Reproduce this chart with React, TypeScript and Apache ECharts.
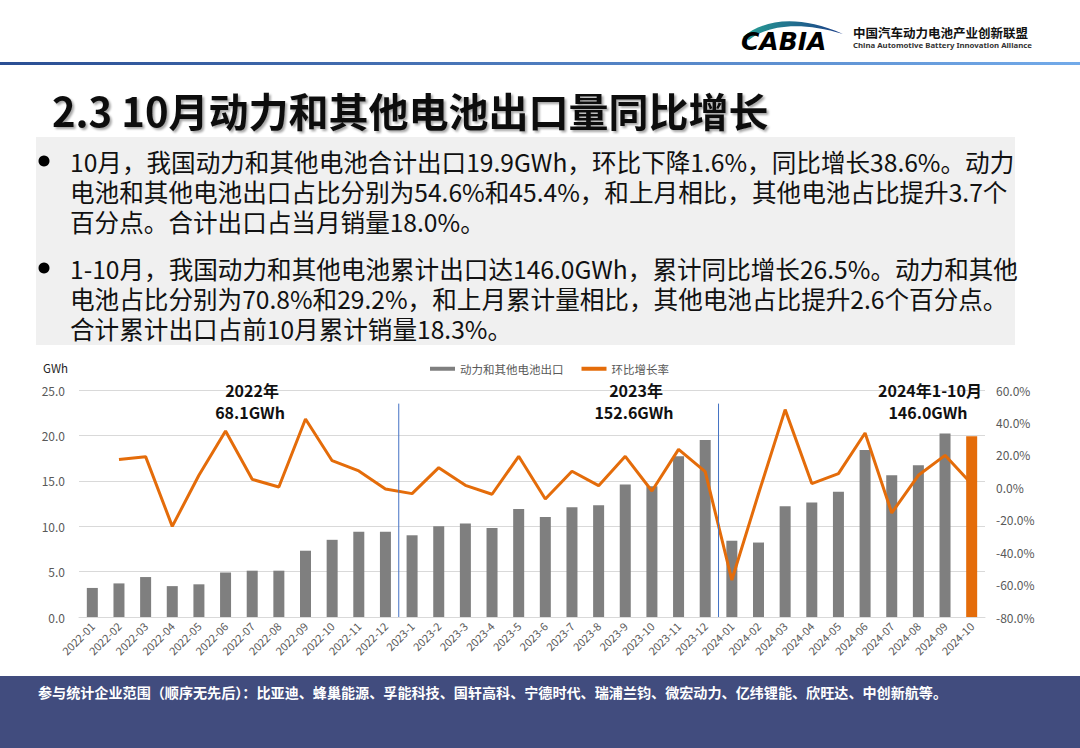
import React, { useEffect, useRef } from "react";
import * as echarts from "echarts";

// ---------- data ----------
const categories = [
  "2022-01", "2022-02", "2022-03", "2022-04", "2022-05", "2022-06",
  "2022-07", "2022-08", "2022-09", "2022-10", "2022-11", "2022-12",
  "2023-1", "2023-2", "2023-3", "2023-4", "2023-5", "2023-6",
  "2023-7", "2023-8", "2023-9", "2023-10", "2023-11", "2023-12",
  "2024-01", "2024-02", "2024-03", "2024-04", "2024-05", "2024-06",
  "2024-07", "2024-08", "2024-09", "2024-10",
];
const exportGWh = [
  3.2, 3.7, 4.4, 3.4, 3.6, 4.9, 5.1, 5.1, 7.3, 8.5, 9.4, 9.4,
  9.0, 10.0, 10.3, 9.8, 11.9, 11.0, 12.1, 12.3, 14.6, 14.4, 17.7, 19.5,
  8.4, 8.2, 12.2, 12.6, 13.8, 18.4, 15.6, 16.7, 20.2, 19.9,
];
const momGrowth: (number | null)[] = [
  null, 17.1, 18.9, -24.1, 7.4, 34.7, 4.9, 0.2, 42.1, 16.4, 10.1, -1.0,
  -3.9, 12.1, 1.2, -4.3, 19.1, -7.2, 9.9, 1.0, 19.1, -2.3, 23.4, 9.7,
  -57.2, -4.0, 47.9, 2.3, 8.4, 33.5, -15.8, 7.4, 19.7, 2.0,
];
const leftTicks = { min: 0, max: 25, interval: 5 };
const rightTicks = { min: -80, max: 60, interval: 20 };
const seriesNames = ["动力和其他电池出口", "环比增长率"];
const yearNotes = [
  { title: "2022年", total: "68.1GWh" },
  { title: "2023年", total: "152.6GWh" },
  { title: "2024年1-10月", total: "146.0GWh" },
];
const titleText = "2.3 10月动力和其他电池出口量同比增长";
const para1 = [
  "10月，我国动力和其他电池合计出口19.9GWh，环比下降1.6%，同比增长38.6%。动力",
  "电池和其他电池出口占比分别为54.6%和45.4%，和上月相比，其他电池占比提升3.7个",
  "百分点。合计出口占当月销量18.0%。",
];
const para2 = [
  "1-10月，我国动力和其他电池累计出口达146.0GWh，累计同比增长26.5%。动力和其他",
  "电池占比分别为70.8%和29.2%，和上月累计量相比，其他电池占比提升2.6个百分点。",
  "合计累计出口占前10月累计销量18.3%。",
];
const footerText =
  "参与统计企业范围（顺序无先后）：比亚迪、蜂巢能源、孚能科技、国轩高科、宁德时代、瑞浦兰钧、微宏动力、亿纬锂能、欣旺达、中创新航等。";
const orgCn = "中国汽车动力电池产业创新联盟";
const orgEn = "China Automotive Battery Innovation Alliance";
const logoText = "CABIA";

// ---------- styles ----------
const FONT = '"Noto Sans CJK SC", "Noto Sans", sans-serif';
const GRAY_BAR = "#7f7f7f";
const ORANGE = "#e46c0a";
const AXIS_TEXT = "#595959";
const GRID_LINE = "#d9d9d9";

const LOGO_D = "M2 24 C20 8 55 0 102 21 C60 8 26 12 8 27 Z";
echarts.graphic.registerShape("logo", echarts.graphic.extendPath(LOGO_D, {}));

function txt(id: string, x: number, y: number, text: string, s: any) {
  return {
    id,
    type: "text",
    x,
    y,
    z: 10,
    style: {
      text,
      fontFamily: FONT,
      textVerticalAlign: "middle",
      ...s,
    },
  };
}

export default function App() {
  const ref = useRef<HTMLDivElement>(null);

  useEffect(() => {
    if (!ref.current) return;
    const chart = echarts.init(ref.current, null, { renderer: "svg" });

    const base: any[] = [];
    // header line
    base.push({
      id: "hline",
      type: "rect",
      shape: { x: 0, y: 62, width: 1080, height: 3 },
      style: {
        fill: {
          type: "linear", x: 0, y: 0, x2: 1, y2: 0,
          colorStops: [
            { offset: 0, color: "#2a4e93" },
            { offset: 1, color: "#72aae9" },
          ],
        },
      },
    });
    // logo
    base.push({
      id: "logoSwoosh",
      type: "logo",
      x: 741,
      y: 13,
      style: {
        fill: {
          type: "linear", x: 0, y: 0, x2: 1, y2: 0,
          colorStops: [
            { offset: 0, color: "#27a094" },
            { offset: 1, color: "#1b3d88" },
          ],
        },
      },
    });
    base.push(
      txt("logoText", 741, 41, logoText, {
        fontSize: 25,
        fontWeight: "bold",
        fontStyle: "italic",
        fontFamily: '"DejaVu Sans", sans-serif',
        fill: {
          type: "linear", x: 0, y: 0, x2: 1, y2: 0,
          colorStops: [
            { offset: 0, color: "#18a58a" },
            { offset: 0.5, color: "#1a86a6" },
            { offset: 1, color: "#1f5fb0" },
          ],
        },
      })
    );
    base.push(txt("orgCn", 853, 32, orgCn, { fontSize: 12.5, fontWeight: "bold", fill: "#111" }));
    base.push(
      txt("orgEn", 853, 45, orgEn, {
        fontSize: 7.8,
        fontWeight: "bold",
        fontFamily: '"Noto Sans", sans-serif',
        fill: "#333",
      })
    );
    // title
    base.push(
      txt("title", 52, 110, titleText, {
        fontSize: 40,
        fontWeight: "bold",
        fill: "#111",
        textShadowColor: "rgba(0,0,0,0.35)",
        textShadowOffsetX: 2,
        textShadowOffsetY: 2,
        textShadowBlur: 2,
      })
    );
    // text box
    base.push({
      id: "box",
      type: "rect",
      shape: { x: 36, y: 137, width: 979, height: 208 },
      style: { fill: "#f0f0f0" },
    });
    base.push({ id: "b1", type: "circle", shape: { cx: 44, cy: 161, r: 5.5 }, style: { fill: "#000" }, z: 10 });
    base.push({ id: "b2", type: "circle", shape: { cx: 44, cy: 268, r: 5.5 }, style: { fill: "#000" }, z: 10 });
    const bodyStyle = { fontSize: 24.6, lineHeight: 30, fill: "#111", textVerticalAlign: "top" };
    base.push(txt("p1", 70, 146, para1.join("\n"), bodyStyle));
    base.push(txt("p2", 70, 253, para2.join("\n"), bodyStyle));
    // year notes
    const noteX = [252, 636, 930];
    yearNotes.forEach((n, i) => {
      base.push(
        txt("nt" + i, noteX[i], 390, n.title, {
          fontSize: 16, lineHeight: 19, fontWeight: "bold", fill: "#111", textAlign: "center",
        })
      );
      base.push(
        txt("nv" + i, noteX[i] - 2, 412, n.total, {
          fontSize: 16, lineHeight: 19, fontWeight: "bold", fill: "#111", textAlign: "center",
        })
      );
    });
    // GWh unit
    base.push(txt("unit", 43, 368, "GWh", { fontSize: 11.5, fill: "#222" }));
    // footer
    base.push({
      id: "footer",
      type: "rect",
      shape: { x: 0, y: 676, width: 1080, height: 72 },
      style: { fill: "#414c7e" },
    });
    base.push(txt("footerText", 38, 692, footerText, { fontSize: 14.1, fontWeight: "bold", fill: "#fff" }));

    const lastIdx = exportGWh.length - 1;
    const option: any = {
      animation: false,
      backgroundColor: "#fff",
      textStyle: { fontFamily: FONT },
      legend: {
        left: 425,
        top: 358,
        itemWidth: 25,
        itemHeight: 4,
        itemGap: 18,
        textStyle: { fontSize: 11.5, color: AXIS_TEXT, fontFamily: FONT },
        data: [
          { name: seriesNames[0], icon: "rect", itemStyle: { color: GRAY_BAR } },
          { name: seriesNames[1], icon: "rect", itemStyle: { color: ORANGE } },
        ],
      },
      grid: { left: 79, right: 95, top: 390, bottom: 131, containLabel: false },
      xAxis: {
        type: "category",
        data: categories,
        boundaryGap: true,
        axisLine: { lineStyle: { color: GRID_LINE } },
        axisTick: { show: false },
        axisLabel: { rotate: 45, fontSize: 11, color: AXIS_TEXT, margin: 7, interval: 0, fontFamily: FONT },
      },
      yAxis: [
        {
          type: "value",
          min: leftTicks.min,
          max: leftTicks.max,
          interval: leftTicks.interval,
          axisLine: { show: false },
          axisTick: { show: false },
          splitLine: { lineStyle: { color: GRID_LINE } },
          axisLabel: {
            fontSize: 12, color: AXIS_TEXT, margin: 14, fontFamily: FONT,
            formatter: (v: number) => v.toFixed(1),
          },
        },
        {
          type: "value",
          min: rightTicks.min,
          max: rightTicks.max,
          interval: rightTicks.interval,
          axisLine: { show: false },
          axisTick: { show: false },
          splitLine: { show: false },
          axisLabel: {
            fontSize: 12, color: AXIS_TEXT, margin: 11, fontFamily: FONT,
            formatter: (v: number) => v.toFixed(1) + "%",
          },
        },
      ],
      series: [
        {
          name: seriesNames[0],
          type: "bar",
          data: exportGWh.map((v, i) =>
            i === lastIdx ? { value: v, itemStyle: { color: ORANGE } } : v
          ),
          barWidth: 11,
          itemStyle: { color: GRAY_BAR },
          z: 2,
        },
        {
          name: seriesNames[1],
          type: "line",
          yAxisIndex: 1,
          data: momGrowth.map((v) => (v === null ? "-" : v)),
          symbol: "none",
          lineStyle: { color: ORANGE, width: 3 },
          itemStyle: { color: ORANGE },
          z: 3,
        },
      ],
      graphic: { elements: base },
    };
    chart.setOption(option);

    // year separators between categories, positioned via the axis scale
    const dividers: any[] = [];
    const yTop = chart.convertToPixel({ yAxisIndex: 0 }, 23.5) as number;
    const yBot = chart.convertToPixel({ yAxisIndex: 0 }, 0) as number;
    [11, 23].forEach((i, k) => {
      const a = chart.convertToPixel({ xAxisIndex: 0 }, categories[i]) as number;
      const b = chart.convertToPixel({ xAxisIndex: 0 }, categories[i + 1]) as number;
      const x = (a + b) / 2;
      dividers.push({
        id: "div" + k,
        type: "line",
        z: 5,
        shape: { x1: x, y1: yTop, x2: x, y2: yBot },
        style: { stroke: "#4472c4", lineWidth: 1 },
      });
    });
    chart.setOption({ graphic: { elements: [...base, ...dividers] } });

    return () => chart.dispose();
  }, []);

  return (
    <div
      ref={ref}
      style={{ position: "absolute", left: 0, top: 0, width: 1080, height: 748, background: "#fff" }}
    />
  );
}
